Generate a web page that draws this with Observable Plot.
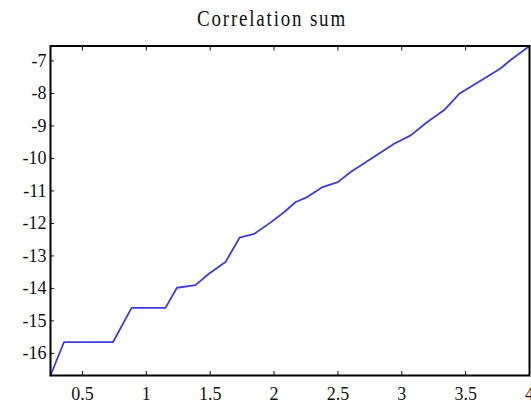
<!DOCTYPE html>
<html>
<head>
<meta charset="utf-8">
<script src="https://cdn.jsdelivr.net/npm/d3@7"></script>
<script src="https://cdn.jsdelivr.net/npm/@observablehq/plot@0.6"></script>
<style>
  html, body { margin: 0; padding: 0; background: white; }
  #wrap { position: relative; width: 531px; height: 410px; overflow: hidden; }
  #title { position: absolute; top: 8px; left: 272px; transform: translateX(-50%) scaleY(1.2);
           font-family: "Liberation Serif", serif; font-size: 19px; letter-spacing: 1.8px;
           white-space: nowrap; color: #111; }
  #chart { position: absolute; top: 40px; left: 0; }
</style>
</head>
<body>
<div id="wrap">
  <div id="title">Correlation sum</div>
  <div id="chart"></div>
</div>
<script>
const xs = [0.25, 0.356, 0.74, 0.885, 1.15, 1.24, 1.385, 1.49, 1.62, 1.73, 1.846, 1.977, 2.08, 2.17, 2.26, 2.38, 2.50, 2.60, 2.76, 2.94, 3.07, 3.20, 3.33, 3.45, 3.62, 3.77, 3.85, 4.0];
const ys = [-16.68, -15.65, -15.65, -14.6, -14.6, -13.98, -13.9, -13.55, -13.19, -12.44, -12.32, -11.96, -11.65, -11.34, -11.19, -10.88, -10.73, -10.42, -10.01, -9.55, -9.29, -8.88, -8.52, -8.01, -7.6, -7.24, -6.98, -6.54];
const xTicks = [0.5, 1, 1.5, 2, 2.5, 3, 3.5, 4];
const yTicks = [-16, -15, -14, -13, -12, -11, -10, -9, -8, -7];

const data = xs.map((x, i) => ({x, y: ys[i]}));
const fmt = d => String(d);
const font = {fontFamily: "Liberation Serif", fontSize: 18};

const chart = Plot.plot({
  width: 531,
  height: 370,
  marginLeft: 50,
  marginRight: 2,
  marginTop: 5.5,
  marginBottom: 35,
  x: {domain: [0.25, 4]},
  y: {domain: [-16.68, -6.54]},
  style: {background: "white", color: "#111"},
  marks: [
    Plot.line(data, {x: "x", y: "y", stroke: "#3c3cdc", strokeWidth: 1.8, strokeLinejoin: "round"}),
    Plot.axisX({ticks: xTicks, tickSize: -4, tickPadding: 16, tickFormat: fmt, label: null, ...font}),
    Plot.axisX({anchor: "top", ticks: xTicks, tickSize: -4, fill: "none", label: null}),
    Plot.axisY({ticks: yTicks, tickSize: -4, tickPadding: 8, tickFormat: fmt, label: null, ...font}),
    Plot.frame({stroke: "black", strokeWidth: 2})
  ]
});
document.getElementById("chart").appendChild(chart);
</script>
</body>
</html>
